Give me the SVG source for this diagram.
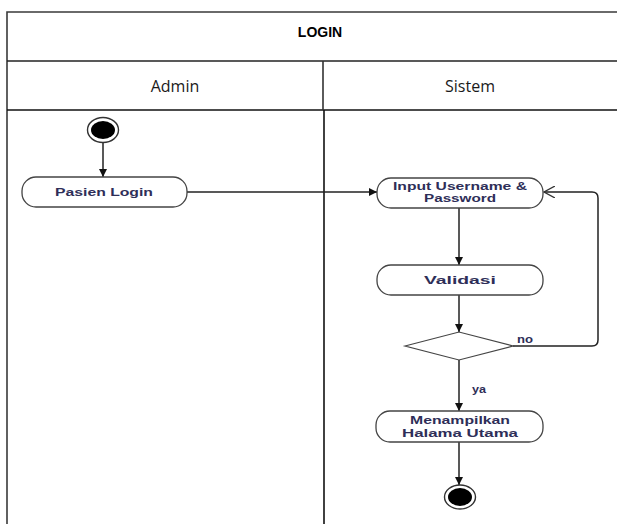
<svg xmlns="http://www.w3.org/2000/svg" width="617" height="524" viewBox="0 0 617 524">
  <style>
    .frame { fill: none; stroke: #3a3a3a; stroke-width: 1.6; }
    .title { font-family: "Liberation Sans", Arial, sans-serif; font-size: 14px; font-weight: bold; fill: #000; text-anchor: middle; }
    .lane { font-family: "Open Sans", "Liberation Sans", sans-serif; font-size: 16px; fill: #1a1a1a; text-anchor: middle; }
    .act { fill: #fff; stroke: #444; stroke-width: 1.3; }
    .lbl { font-family: "Liberation Sans", Arial, sans-serif; font-size: 11px; font-weight: bold; fill: #2e2e58; text-anchor: middle; }
    .edge { fill: none; stroke: #222; stroke-width: 1.5; }
    .guard { font-family: "Liberation Sans", Arial, sans-serif; font-size: 10px; font-weight: bold; fill: #2e2e58; }
  </style>
  <defs>
    <marker id="arrow" viewBox="0 0 10 10" refX="10" refY="5" markerWidth="8" markerHeight="8" markerUnits="userSpaceOnUse" orient="auto">
      <path d="M0,0 L10,5 L0,10 z" fill="#111"/>
    </marker>
    <marker id="open" viewBox="0 0 12 12" refX="11" refY="6" markerWidth="12" markerHeight="12" markerUnits="userSpaceOnUse" orient="auto">
      <path d="M0,0 L11,6 L0,12" fill="none" stroke="#333" stroke-width="1.3"/>
    </marker>
  </defs>

  <rect width="617" height="524" fill="#fff"/>

  <!-- swimlane frame -->
  <g id="frame">
    <path class="frame" d="M7,524 V12 H617"/>
    <line x1="7" y1="61" x2="617" y2="61" stroke="#222" stroke-width="1.6"/>
    <line x1="7" y1="110" x2="617" y2="110" stroke="#111" stroke-width="1.6"/>
    <line x1="323" y1="61" x2="323" y2="110" stroke="#333" stroke-width="1.6"/>
    <line x1="324" y1="110" x2="324" y2="524" stroke="#111" stroke-width="1.6"/>
    <text class="title" x="320" y="37">LOGIN</text>
    <text class="lane" x="175" y="92">Admin</text>
    <text class="lane" x="470" y="92">Sistem</text>
  </g>

  <!-- connectors -->
  <g id="connectors">
    <line class="edge" x1="103" y1="142" x2="103" y2="177" marker-end="url(#arrow)"/>
    <line class="edge" x1="187" y1="192" x2="377" y2="192" marker-end="url(#arrow)"/>
    <line class="edge" x1="459" y1="208" x2="459" y2="265" marker-end="url(#arrow)"/>
    <line class="edge" x1="459" y1="295" x2="459" y2="332" marker-end="url(#arrow)"/>
    <path class="edge" d="M513,346 H592 Q598,346 598,340 V198 Q598,192 592,192 H544" marker-end="url(#open)"/>
    <line class="edge" x1="459" y1="360" x2="459" y2="411" marker-end="url(#arrow)"/>
    <line class="edge" x1="459" y1="442" x2="459" y2="485" marker-end="url(#arrow)"/>
    <text class="guard" x="517" y="343" textLength="16" lengthAdjust="spacingAndGlyphs">no</text>
    <text class="guard" x="472" y="393" textLength="14" lengthAdjust="spacingAndGlyphs">ya</text>
  </g>

  <!-- initial node -->
  <g id="start">
    <ellipse cx="103" cy="130" rx="15.5" ry="12.5" fill="#fff" stroke="#333" stroke-width="1.4"/>
    <ellipse cx="103" cy="130" rx="12" ry="9" fill="#000"/>
  </g>

  <g id="pasien-login">
    <rect class="act" x="22" y="177" width="165" height="30" rx="14"/>
    <text class="lbl" x="104" y="196" textLength="98" lengthAdjust="spacingAndGlyphs">Pasien Login</text>
  </g>

  <g id="input-username">
    <rect class="act" x="377" y="178" width="166" height="30" rx="14"/>
    <text class="lbl" x="460" y="189.5" textLength="134" lengthAdjust="spacingAndGlyphs">Input Username &amp;</text>
    <text class="lbl" x="460" y="202" textLength="72" lengthAdjust="spacingAndGlyphs">Password</text>
  </g>

  <g id="validasi">
    <rect class="act" x="377" y="265" width="166" height="30" rx="14"/>
    <text class="lbl" x="460" y="284" textLength="72" lengthAdjust="spacingAndGlyphs">Validasi</text>
  </g>

  <g id="decision">
    <polygon points="405,346 459,332 513,346 459,360" fill="#fff" stroke="#444" stroke-width="1.2"/>
  </g>

  <g id="halaman-utama">
    <rect class="act" x="376" y="411" width="167" height="31" rx="14"/>
    <text class="lbl" x="460" y="424" textLength="100" lengthAdjust="spacingAndGlyphs">Menampilkan</text>
    <text class="lbl" x="460" y="437" textLength="116" lengthAdjust="spacingAndGlyphs">Halama Utama</text>
  </g>

  <!-- final node -->
  <g id="end">
    <ellipse cx="460" cy="497" rx="15.5" ry="12" fill="#fff" stroke="#333" stroke-width="1.4"/>
    <ellipse cx="460" cy="497" rx="12" ry="9" fill="#000"/>
  </g>
</svg>
